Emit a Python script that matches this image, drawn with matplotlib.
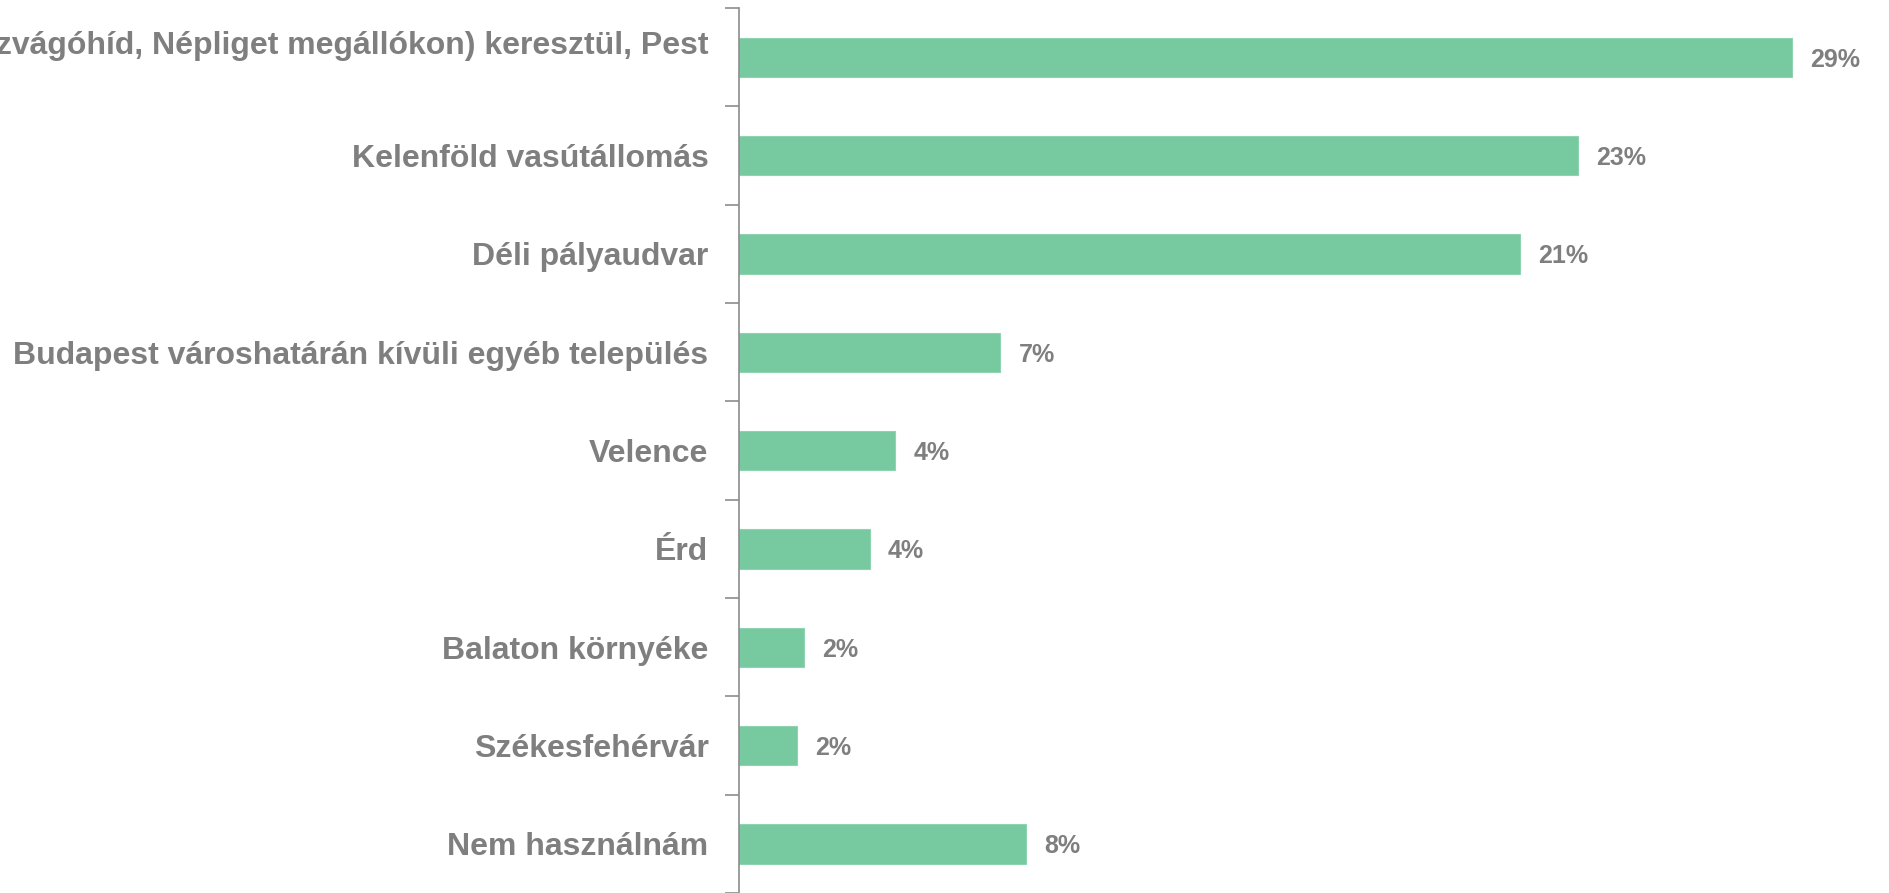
import matplotlib.pyplot as plt
import numpy as np

# answer options, top to bottom
categories = [
    "Repülőtéri busszal (Kőbánya-Kispest, Közvágóhíd, Népliget megállókon) keresztül, Pest\n ",
    "Kelenföld vasútállomás",
    "Déli pályaudvar",
    "Budapest városhatárán kívüli egyéb település",
    "Velence",
    "Érd",
    "Balaton környéke",
    "Székesfehérvár",
    "Nem használnám",
]
values = [29.0, 23.1, 21.5, 7.2, 4.3, 3.6, 1.8, 1.6, 7.9]
value_labels = ["29%", "23%", "21%", "7%", "4%", "4%", "2%", "2%", "8%"]

bar_color = "#77C9A0"
text_color = "#7F7F7F"
axis_color = "#8C8C8C"

plt.rcParams['font.family'] = ['Liberation Sans', 'DejaVu Sans']

fig = plt.figure(figsize=(18.9, 8.93), dpi=100)
ax = fig.add_axes([739 / 1890, 0.0, 1 - 739 / 1890, (893 - 8) / 893])

y = np.arange(len(categories))
ax.barh(y, values, height=0.4, color=bar_color, edgecolor="#8FD3B0", linewidth=0.8)

for yi, v, lab in zip(y, values, value_labels):
    ax.text(v + 0.5, yi, lab, va="center_baseline", ha="left", fontsize=18,
            fontweight="bold", color=text_color)

ax.set_ylim(len(categories) - 0.5, -0.5)
ax.set_xlim(0, 31.7)

ax.set_yticks(y)
ax.set_yticklabels(categories, fontsize=23, fontweight="bold", color=text_color,
                   linespacing=1.0)
ax.tick_params(axis="y", which="major", length=0, pad=22)
ax.set_yticks(np.arange(-0.5, len(categories) + 0.5, 1), minor=True)
ax.tick_params(axis="y", which="minor", length=10, width=1.2, color=axis_color, direction="out")

ax.set_xticks([])
for s in ["top", "right", "bottom"]:
    ax.spines[s].set_visible(False)
ax.spines["left"].set_color(axis_color)
ax.spines["left"].set_linewidth(1.2)

fig.savefig("out.png", dpi=100)
